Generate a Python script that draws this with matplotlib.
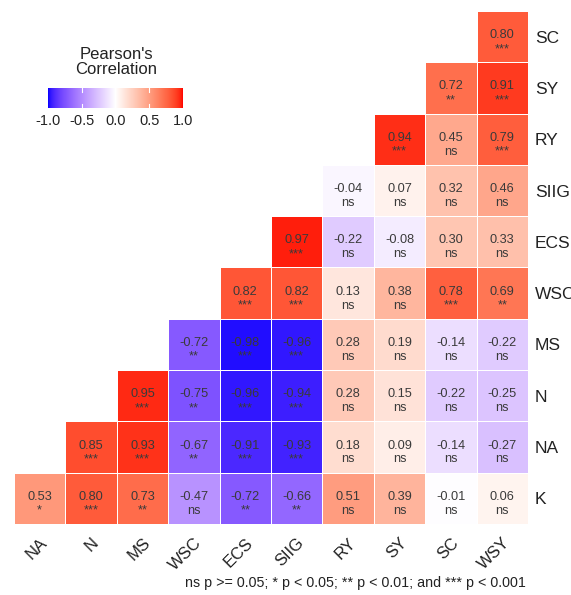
import numpy as np
import matplotlib
matplotlib.use("Agg")
import matplotlib.pyplot as plt
from matplotlib.colors import ListedColormap
from matplotlib.cm import ScalarMappable
from matplotlib.transforms import ScaledTranslation

plt.rcParams["font.family"] = ["Liberation Sans", "DejaVu Sans"]

# x (columns, left to right) and y (rows, bottom to top) variables
cols = ["NA", "N", "MS", "WSC", "ECS", "SIIG", "RY", "SY", "SC", "WSY"]
rows = ["K", "NA", "N", "MS", "WSC", "ECS", "SIIG", "RY", "SY", "SC"]

# row i holds the cells for columns i..9
r_K = [0.53, 0.80, 0.73, -0.47, -0.72, -0.66, 0.51, 0.39, -0.01, 0.06]
r_NA = [0.85, 0.93, -0.67, -0.91, -0.93, 0.18, 0.09, -0.14, -0.27]
r_N = [0.95, -0.75, -0.96, -0.94, 0.28, 0.15, -0.22, -0.25]
r_MS = [-0.72, -0.98, -0.96, 0.28, 0.19, -0.14, -0.22]
r_WSC = [0.82, 0.82, 0.13, 0.38, 0.78, 0.69]
r_ECS = [0.97, -0.22, -0.08, 0.30, 0.33]
r_SIIG = [-0.04, 0.07, 0.32, 0.46]
r_RY = [0.94, 0.45, 0.79]
r_SY = [0.72, 0.91]
r_SC = [0.80]

s_K = ["*", "***", "**", "ns", "**", "**", "ns", "ns", "ns", "ns"]
s_NA = ["***", "***", "**", "***", "***", "ns", "ns", "ns", "ns"]
s_N = ["***", "**", "***", "***", "ns", "ns", "ns", "ns"]
s_MS = ["**", "***", "***", "ns", "ns", "ns", "ns"]
s_WSC = ["***", "***", "ns", "ns", "***", "**"]
s_ECS = ["***", "ns", "ns", "ns", "ns"]
s_SIIG = ["ns", "ns", "ns", "ns"]
s_RY = ["***", "ns", "***"]
s_SY = ["**", "***"]
s_SC = ["***"]

corr_rows = [r_K, r_NA, r_N, r_MS, r_WSC, r_ECS, r_SIIG, r_RY, r_SY, r_SC]
star_rows = [s_K, s_NA, s_N, s_MS, s_WSC, s_ECS, s_SIIG, s_RY, s_SY, s_SC]


# blue-white-red gradient interpolated in CIELAB (like ggplot's gradient2)
WP = np.array([0.95047, 1.0, 1.08883])
M = np.array([[0.4124, 0.3576, 0.1805],
              [0.2126, 0.7152, 0.0722],
              [0.0193, 0.1192, 0.9505]])


def to_lab(rgb):
    rgb = np.asarray(rgb, float)
    lin = np.where(rgb <= 0.04045, rgb / 12.92, ((rgb + 0.055) / 1.055) ** 2.4)
    t = (M @ lin) / WP
    d = 6 / 29
    f = np.where(t > d ** 3, np.cbrt(t), t / (3 * d * d) + 4 / 29)
    return np.array([116 * f[1] - 16, 500 * (f[0] - f[1]), 200 * (f[1] - f[2])])


def from_lab(lab):
    L, a, b = lab
    fy = (L + 16) / 116
    f = np.array([fy + a / 500, fy, fy - b / 200])
    d = 6 / 29
    t = np.where(f > d, f ** 3, 3 * d * d * (f - 4 / 29)) * WP
    lin = np.linalg.solve(M, t)
    lin = np.clip(lin, 0, 1)
    rgb = np.where(lin <= 0.0031308, 12.92 * lin, 1.055 * lin ** (1 / 2.4) - 0.055)
    return np.clip(rgb, 0, 1)


lab_b, lab_w, lab_r = to_lab([0, 0, 1]), to_lab([1, 1, 1]), to_lab([1, 0, 0])
grad = []
for v in np.linspace(-1, 1, 401):
    if v < 0:
        grad.append(from_lab(lab_w + (lab_b - lab_w) * (-v)))
    else:
        grad.append(from_lab(lab_w + (lab_r - lab_w) * v))
cmap = ListedColormap(grad)

# matrix, masked above the diagonal
Z = np.full((len(rows), len(cols)), np.nan)
for i, vals in enumerate(corr_rows):
    Z[i, i:] = vals
Z = np.ma.masked_invalid(Z)

fig = plt.figure(figsize=(5.71, 5.95), dpi=100)
ax = fig.add_axes([14 / 571, 1 - 524 / 595, 514 / 571, 513 / 595])
ax.pcolormesh(np.arange(len(cols) + 1) - 0.5, np.arange(len(rows) + 1) - 0.5, Z,
              cmap=cmap, vmin=-1, vmax=1, edgecolors="white", linewidth=0.5)

for i, (vals, stars) in enumerate(zip(corr_rows, star_rows)):
    for k, (v, s) in enumerate(zip(vals, stars)):
        j = i + k
        ax.text(j, i - 0.03, f"{v:.2f}", ha="center", va="baseline",
                fontsize=9.2, color="#3a3a3a")
        ax.text(j, i - 0.30, s, ha="center", va="baseline",
                fontsize=9.2, color="#3a3a3a")

ax.set_xlim(-0.5, len(cols) - 0.5)
ax.set_ylim(-0.5, len(rows) - 0.5)
ax.set_xticks(range(len(cols)))
ax.set_xticklabels(cols, rotation=45, ha="right", rotation_mode="anchor",
                   fontsize=12, color="#222222")
shift = ScaledTranslation(4 / 72, 0, fig.dpi_scale_trans)
for lbl in ax.get_xticklabels():
    lbl.set_transform(lbl.get_transform() + shift)
ax.set_yticks(range(len(rows)))
ax.set_yticklabels(rows, fontsize=12.5, color="#222222")
ax.yaxis.tick_right()
ax.tick_params(axis="x", length=0, pad=8)
ax.tick_params(axis="y", length=0, pad=5)
for sp in ax.spines.values():
    sp.set_visible(False)

# legend colourbar
cax = fig.add_axes([48 / 571, 1 - 108 / 595, 135 / 571, 20 / 595])
cb = fig.colorbar(ScalarMappable(cmap=cmap, norm=plt.Normalize(-1, 1)),
                  cax=cax, orientation="horizontal")
cb.outline.set_visible(False)
cb.set_ticks([-1.0, -0.5, 0.0, 0.5, 1.0])
cb.set_ticklabels(["-1.0", "-0.5", "0.0", "0.5", "1.0"])
cax.tick_params(length=0, labelsize=10.5, pad=4, colors="#222222")
for t in [-0.5, 0.0, 0.5]:
    cax.plot([t, t], [0, 0.2], color="white", lw=0.8)
    cax.plot([t, t], [0.8, 1], color="white", lw=0.8)
fig.text(116 / 571, 1 - 62 / 595, "Pearson's\nCorrelation", ha="center",
         va="center", fontsize=12, color="#222222", linespacing=1.0)

fig.text(526 / 571, 1 - 587 / 595,
         "ns p >= 0.05; * p < 0.05; ** p < 0.01; and *** p < 0.001",
         ha="right", va="baseline", fontsize=10.3, color="#222222")

fig.savefig("out.png", dpi=100)
